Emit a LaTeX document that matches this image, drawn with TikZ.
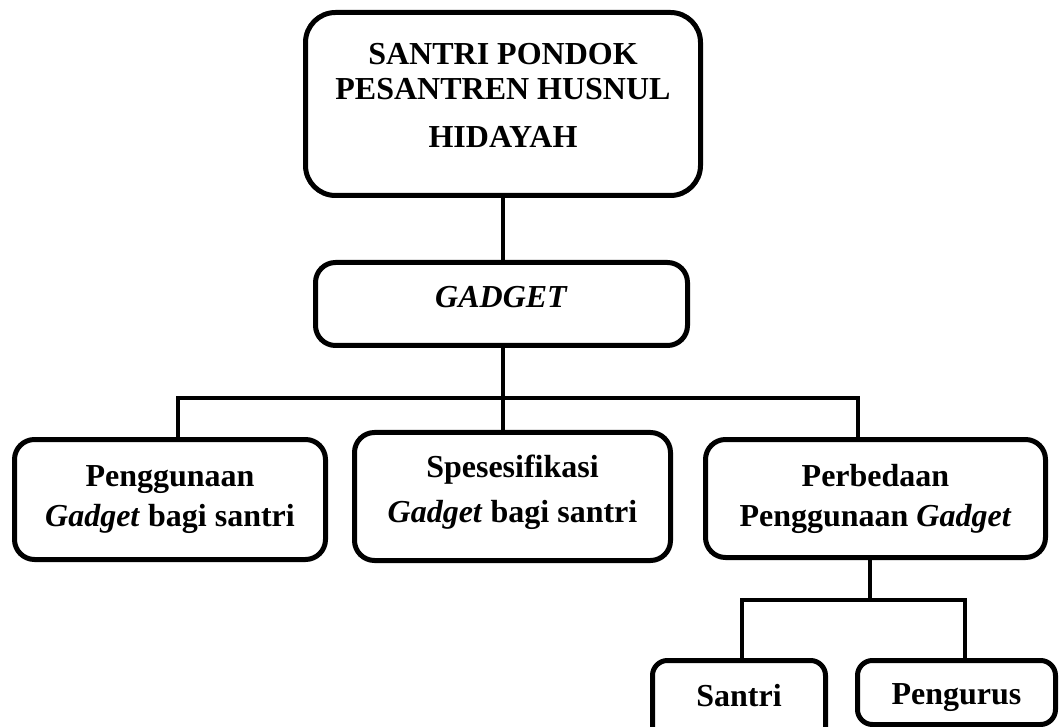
\documentclass[tikz,border=0pt]{standalone}
\usepackage{fontspec}
\setmainfont{Liberation Serif}
\usepackage{tikz}
\usetikzlibrary{positioning}
\tikzset{kotak/.style={draw, line width=5pt, rounded corners=20pt, align=center, inner sep=0pt}}
\tikzset{garis/.style={line width=4pt}}

\begin{document}
\begin{tikzpicture}[x=1pt,y=-1pt,font=\fontsize{32}{40}\selectfont\bfseries]
\useasboundingbox (0,0) rectangle (1061,727);
\node[kotak, rounded corners=30pt, minimum width=395pt, minimum height=183pt, font=\fontsize{32}{35}\selectfont\bfseries] (pondok) at (503,104) {SANTRI PONDOK\\PESANTREN HUSNUL\\[13pt]HIDAYAH\rule[-18pt]{0pt}{18pt}};
\node[kotak, minimum width=372pt, minimum height=83pt] (gadget) at (501.5,304) {\textit{GADGET}\rule[-14pt]{0pt}{14pt}};
\node[kotak, minimum width=311pt, minimum height=120pt] (guna) at (170,499.5) {Penggunaan\\\textit{Gadget} bagi santri};
\node[kotak, minimum width=316pt, minimum height=128pt, font=\fontsize{32}{45}\selectfont\bfseries] (spek) at (512.5,496.5) {Spesesifikasi\\\textit{Gadget} bagi santri\rule[-16pt]{0pt}{16pt}};
\node[kotak, minimum width=340pt, minimum height=118pt] (beda) at (875.5,498.5) {Perbedaan\\Penggunaan \textit{Gadget}};
\node[kotak, rounded corners=15pt, minimum width=173pt, minimum height=87pt] (santri) at (739,704) {Santri\rule[-18pt]{0pt}{18pt}};
\node[kotak, rounded corners=15pt, minimum width=198pt, minimum height=64pt] (pengurus) at (956.5,692.5) {\rule{0pt}{31pt}Pengurus};
% cabang
\coordinate (busL) at (178,398);
\coordinate (busM) at (503,398);
\coordinate (busR) at (858,398);
\coordinate (subL) at (742,600);
\coordinate (subM) at (870,600);
\coordinate (subR) at (965,600);
\draw[garis] (pondok.south) -- (pondok.south |- gadget.north);
\draw[garis] (busM |- gadget.south) -- (busM |- spek.north);
\draw[garis] (busL |- guna.north) -- (busL) -- (busR) -- (busR |- beda.north);
\draw[garis] (subM |- beda.south) -- (subM);
\draw[garis] (subL |- santri.north) -- (subL) -- (subR) -- (subR |- pengurus.north);
\end{tikzpicture}
\end{document}
